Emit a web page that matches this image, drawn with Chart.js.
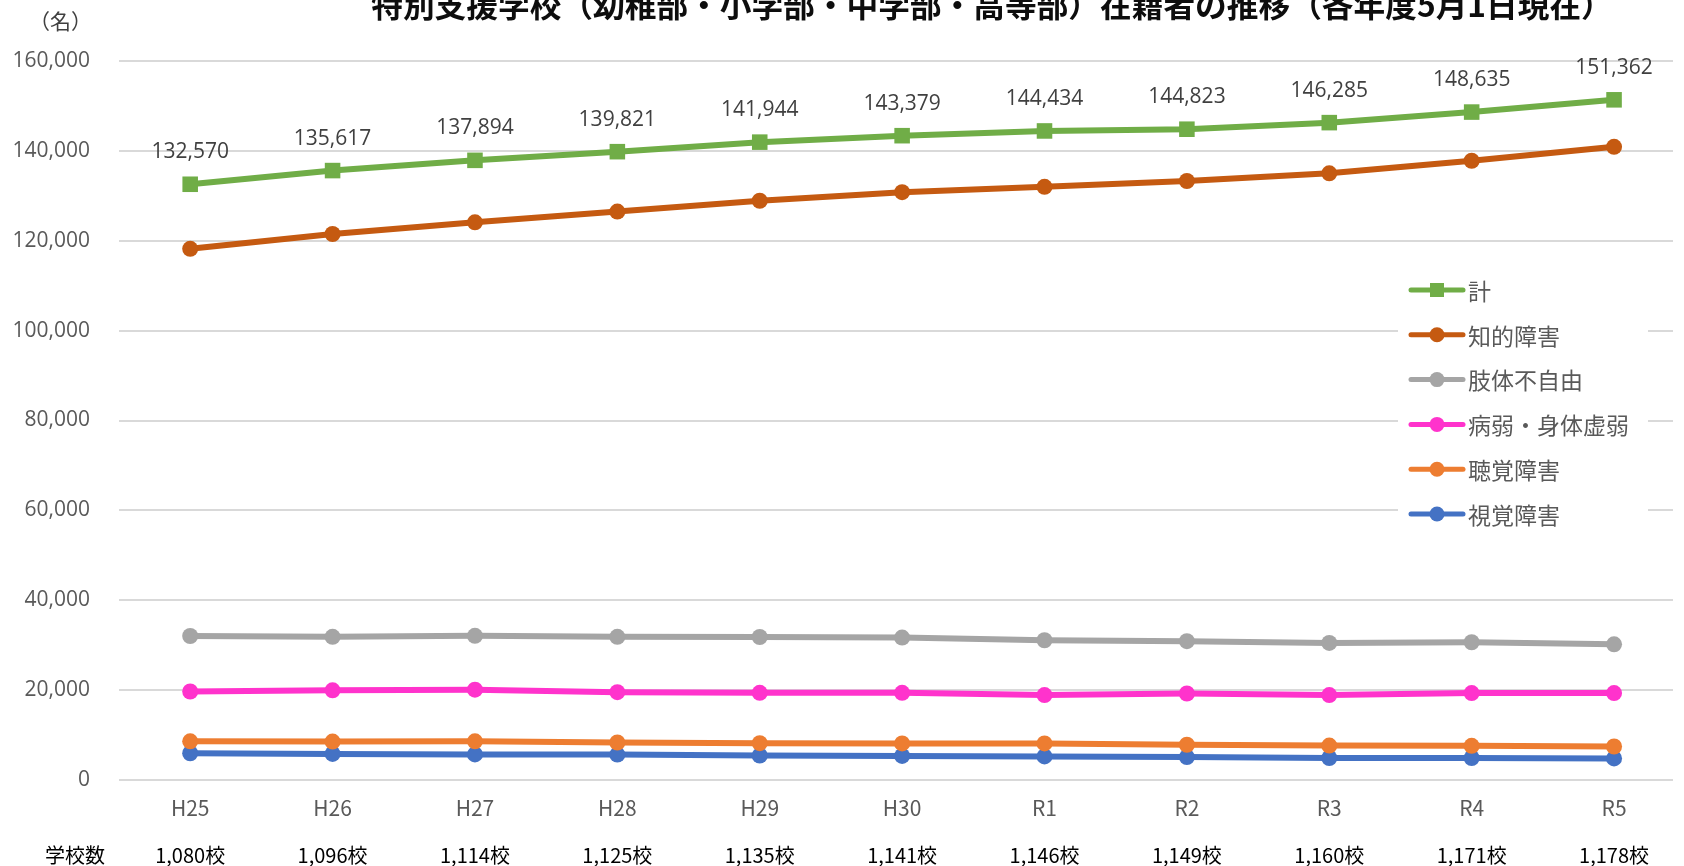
<!DOCTYPE html>
<html lang="ja">
<head>
<meta charset="utf-8">
<title>特別支援学校 在籍者の推移</title>
<script src="https://cdn.jsdelivr.net/npm/chart.js@4.4.1/dist/chart.umd.min.js"></script>
<style>
  html, body { margin: 0; padding: 0; background: #fff; }
  #chart { display: block; }
</style>
</head>
<body>
<canvas id="chart" width="1684" height="866"></canvas>
<script>
const years = ['H25', 'H26', 'H27', 'H28', 'H29', 'H30', 'R1', 'R2', 'R3', 'R4', 'R5'];
const schools = ['1,080校', '1,096校', '1,114校', '1,125校', '1,135校', '1,141校', '1,146校', '1,149校', '1,160校', '1,171校', '1,178校'];

const total    = [132570, 135617, 137894, 139821, 141944, 143379, 144434, 144823, 146285, 148635, 151362];
const chiteki  = [118200, 121500, 124100, 126500, 128900, 130800, 132000, 133300, 135000, 137800, 140900];
const shitai   = [32050, 31850, 32090, 31860, 31820, 31700, 31100, 30900, 30500, 30650, 30200];
const byojaku  = [19700, 19950, 20100, 19550, 19400, 19400, 18900, 19250, 18900, 19350, 19350];
const chokaku  = [8600, 8550, 8600, 8350, 8200, 8150, 8150, 7850, 7650, 7600, 7450];
const shikaku  = [5950, 5800, 5700, 5650, 5450, 5350, 5250, 5100, 4900, 4900, 4800];

const yTicks = [0, 20000, 40000, 60000, 80000, 100000, 120000, 140000, 160000];

const TITLE = '特別支援学校（幼稚部・小学部・中学部・高等部）在籍者の推移（各年度5月1日現在）';
const JP = '"Noto Sans CJK JP", "Noto Sans", sans-serif';
const NUM = '"Open Sans", "Noto Sans", sans-serif';

const fmt = v => v.toLocaleString('en-US');
const toPoints = arr => arr.map((v, i) => ({ x: i, y: v }));

function series(label, data, color, style, radius) {
    return {
        label: label,
        data: toPoints(data),
        borderColor: color,
        backgroundColor: color,
        pointBackgroundColor: color,
        pointBorderColor: color,
        pointBorderWidth: 0,
        pointStyle: style,
        pointRadius: radius,
        borderWidth: 6,
        tension: 0,
        fill: false
    };
}

const extras = {
    id: 'extras',
    beforeDraw(chart) {
        const ctx = chart.ctx;
        ctx.save();
        ctx.fillStyle = '#fff';
        ctx.fillRect(0, 0, chart.width, chart.height);
        ctx.restore();
    },
    afterDatasetsDraw(chart) {
        // value labels above the 計 line
        const ctx = chart.ctx;
        const meta = chart.getDatasetMeta(0);
        ctx.save();
        ctx.font = '21px ' + NUM;
        ctx.fillStyle = '#404040';
        ctx.textAlign = 'center';
        ctx.textBaseline = 'middle';
        meta.data.forEach((pt, i) => {
            ctx.fillText(fmt(total[i]), pt.x, pt.y - 32);
        });
        ctx.restore();
    },
    afterDraw(chart) {
        const ctx = chart.ctx;
        const xs = chart.scales.x;
        ctx.save();

        // title (cut at the top like the original)
        ctx.font = 'bold 31.7px ' + JP;
        ctx.fillStyle = '#0d0d0d';
        ctx.textAlign = 'center';
        ctx.textBaseline = 'middle';
        ctx.fillText(TITLE, 992, 5);

        // unit
        ctx.font = '21px ' + JP;
        ctx.fillStyle = '#404040';
        ctx.textAlign = 'right';
        ctx.fillText('（名）', 92, 21);

        // school count row
        ctx.font = '20px ' + JP;
        ctx.fillStyle = '#000';
        ctx.textAlign = 'center';
        ctx.fillText('学校数', 75, 855);
        schools.forEach((s, i) => {
            ctx.fillText(s, xs.getPixelForValue(i), 855);
        });

        // legend
        ctx.fillStyle = '#fff';
        ctx.fillRect(1398, 268, 250, 262);
        chart.data.datasets.forEach((ds, i) => {
            const y = 290 + i * 44.8;
            ctx.strokeStyle = ds.borderColor;
            ctx.lineWidth = 5;
            ctx.lineCap = 'round';
            ctx.beginPath();
            ctx.moveTo(1411, y);
            ctx.lineTo(1463, y);
            ctx.stroke();
            ctx.fillStyle = ds.borderColor;
            if (ds.pointStyle === 'rect') {
                ctx.fillRect(1437 - 7, y - 7, 14, 14);
            } else {
                ctx.beginPath();
                ctx.arc(1437, y, 7.5, 0, Math.PI * 2);
                ctx.fill();
            }
            ctx.font = '23px ' + JP;
            ctx.fillStyle = '#595959';
            ctx.textAlign = 'left';
            ctx.fillText(ds.label, 1468, y + 1);
        });

        ctx.restore();
    }
};

new Chart(document.getElementById('chart'), {
    type: 'line',
    data: {
        datasets: [
            series('計', total, '#70AD47', 'rect', 11),
            series('知的障害', chiteki, '#C55A11', 'circle', 8),
            series('肢体不自由', shitai, '#A5A5A5', 'circle', 8),
            series('病弱・身体虚弱', byojaku, '#FF33CC', 'circle', 8),
            series('聴覚障害', chokaku, '#ED7D31', 'circle', 8),
            series('視覚障害', shikaku, '#4472C4', 'circle', 8)
        ]
    },
    options: {
        responsive: false,
        animation: false,
        layout: { padding: { top: 61, right: 0, left: 0, bottom: 0 } },
        plugins: {
            legend: { display: false },
            title: { display: false },
            tooltip: { enabled: false }
        },
        scales: {
            x: {
                type: 'linear',
                min: -0.5,
                max: 10.414,
                grid: { display: false },
                border: { display: false },
                afterFit(scale) { scale.height = 86; },
                afterBuildTicks(scale) {
                    scale.ticks = years.map((y, i) => ({ value: i }));
                },
                ticks: {
                    autoSkip: false,
                    maxRotation: 0,
                    padding: 7,
                    color: '#595959',
                    font: { family: JP, size: 21 },
                    callback: (v) => years[v]
                }
            },
            y: {
                min: 0,
                max: 160000,
                afterFit(scale) { scale.width = 119; },
                afterBuildTicks(scale) {
                    scale.ticks = yTicks.map(v => ({ value: v }));
                },
                grid: { color: '#D9D9D9', lineWidth: 2, drawTicks: false },
                border: { display: false },
                ticks: {
                    padding: 29,
                    color: '#595959',
                    font: { family: NUM, size: 21 },
                    callback: (v) => fmt(v)
                }
            }
        }
    },
    plugins: [extras]
});
</script>
</body>
</html>
